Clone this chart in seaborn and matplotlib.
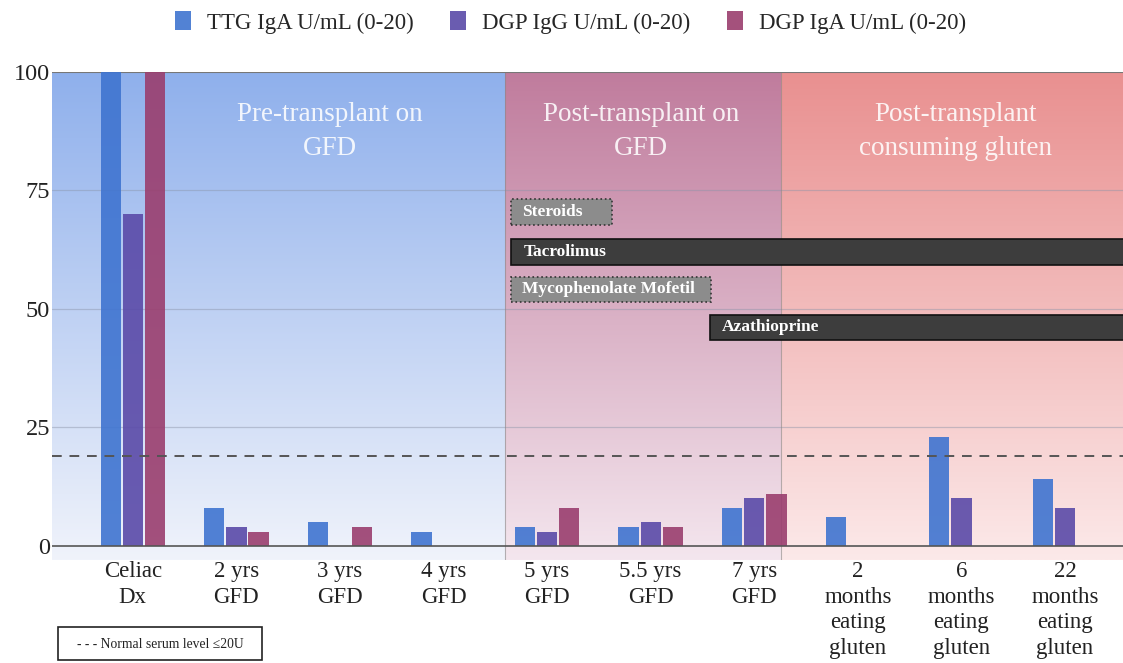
import matplotlib
matplotlib.use('Agg')
import matplotlib.pyplot as plt
import numpy             as np
import pandas            as pd
import seaborn           as sns
from matplotlib.colors   import LinearSegmentedColormap
from matplotlib.patches  import Rectangle

# ---- data ------------------------------------------------------------------
categories = ['Celiac\nDx', '2 yrs\nGFD', '3 yrs\nGFD', '4 yrs\nGFD', '5 yrs\nGFD',
              '5.5 yrs\nGFD', '7 yrs\nGFD', '2\nmonths\neating\ngluten',
              '6\nmonths\neating\ngluten', '22\nmonths\neating\ngluten']
series   = ['TTG IgA U/mL (0-20)', 'DGP IgG U/mL (0-20)', 'DGP IgA U/mL (0-20)']
ttg_iga  = [100, 8, 5, 3, 4, 4, 8, 6, 23, 14]
dgp_igg  = [70, 4, 0, 0, 3, 5, 10, 0, 10, 8]
dgp_iga  = [100, 3, 4, 0, 8, 4, 11, 0, 0, 0]
normal_level = 19

phases       = ['Pre-transplant on\nGFD', 'Post-transplant on\nGFD', 'Post-transplant\nconsuming gluten']
phase_start  = [-0.78, 3.59, 6.26]
phase_end    = [3.59, 6.26, 9.56]
phase_text_x = [1.90, 4.91, 7.94]

drugs       = ['Steroids', 'Tacrolimus', 'Mycophenolate Mofetil', 'Azathioprine']
drug_start  = [3.65, 3.65, 3.65, 5.57]
drug_end    = [4.63, 9.70, 5.58, 9.70]
drug_level  = [70.5, 62.0, 54.1, 46.1]
drug_dotted = [True, False, True, False]

colors = ['#3f74d0', '#5a4aa8', '#9a3e6e']
phase_top    = ['#8fb0ec', '#c07c9d', '#e99090']
phase_bottom = ['#f0f3fb', '#f4e6ee', '#fce9e9']

df = pd.DataFrame({'cat': categories * 3,
                   'series': np.repeat(series, len(categories)),
                   'value': ttg_iga + dgp_igg + dgp_iga})

# ---- figure ----------------------------------------------------------------
sns.set_theme(style='white')
plt.rcParams['font.family'] = ['Liberation Serif', 'DejaVu Serif']

fig = plt.figure(figsize=(11.23, 6.63), dpi=100)
ax  = fig.add_axes([0.0463, 0.1554, 0.9537, 0.736])

ymin, ymax = -3, 100

# gradient backgrounds for the three phases
for x0, x1, ctop, cbot in zip(phase_start, phase_end, phase_top, phase_bottom):
    cmap = LinearSegmentedColormap.from_list('g', [cbot, ctop])
    grad = np.linspace(0, 1, 256).reshape(-1, 1)
    ax.imshow(grad, extent=[x0, x1, ymin, ymax], origin='lower',
              aspect='auto', cmap=cmap, zorder=0)

sns.barplot(data=df, x='cat', y='value', hue='series', order=categories,
            hue_order=series, palette=colors, width=0.64, gap=0.08,
            saturation=1, alpha=0.9, linewidth=0, edgecolor='none',
            ax=ax, zorder=3, legend=True)

# grid / lines
for y in [25, 50, 75]:
    ax.axhline(y, color='#8a94a8', lw=0.9, alpha=0.45, zorder=1)
ax.axhline(100, color='#777777', lw=1.5, zorder=2)
ax.axhline(0, color='#555555', lw=1.2, zorder=4)
for x in phase_start[1:]:
    ax.axvline(x, color='#888888', lw=0.8, alpha=0.6, zorder=1)
ax.axhline(normal_level, color='#555555', lw=1.4, ls=(0, (5, 4)), zorder=5)

# phase titles
for name, xt in zip(phases, phase_text_x):
    ax.text(xt, 87.4, name, ha='center', va='center', color='white',
            fontsize=19.5, alpha=0.88, linespacing=1.45, zorder=6)

# medication bars
for name, x0, x1, yl, dotted in zip(drugs, drug_start, drug_end, drug_level, drug_dotted):
    ax.barh(yl, x1 - x0, left=x0, height=5.4,
            color='#8c8c8c' if dotted else '#3d3d3d',
            edgecolor='#333333' if dotted else '#111111',
            linestyle=':' if dotted else '-', lw=1.2, zorder=6)
    ax.text(x0 + (0.11 if dotted else 0.12), yl, name, ha='left', va='center',
            color='white', fontsize=12.5, fontweight='bold', zorder=7)

ax.set_xlim(-0.78, 9.56)
ax.set_ylim(ymin, ymax)
ax.set_yticks([0, 25, 50, 75, 100])
ax.set_xlabel('')
ax.set_ylabel('')
ax.tick_params(axis='y', labelsize=17.5, pad=1.5, length=0, labelcolor='#222222')
ax.tick_params(axis='x', labelsize=16.5, pad=1, length=0, labelcolor='#222222')
for lab in ax.get_xticklabels():
    lab.set_linespacing(1.28)
for s in ax.spines.values():
    s.set_visible(False)

# legend at top
handles, labels = ax.get_legend_handles_labels()
ax.legend_.remove()
fig.legend(handles, labels, loc='center', bbox_to_anchor=(0.508, 0.966), ncol=3,
           frameon=False, fontsize=16.5, handlelength=0.7, handleheight=0.9,
           handletextpad=0.7, columnspacing=1.6)

# normal serum level note
fig.patches.append(Rectangle((58 / 1123, 1 - 660 / 663), 204 / 1123, 33 / 663,
                             transform=fig.transFigure, fill=False,
                             edgecolor='#222222', lw=1.2))
fig.text(160 / 1123, 1 - 644 / 663, '- - - Normal serum level ≤20U',
         ha='center', va='center', fontsize=9.8, color='#222222')

fig.savefig('out.png', dpi=100)
